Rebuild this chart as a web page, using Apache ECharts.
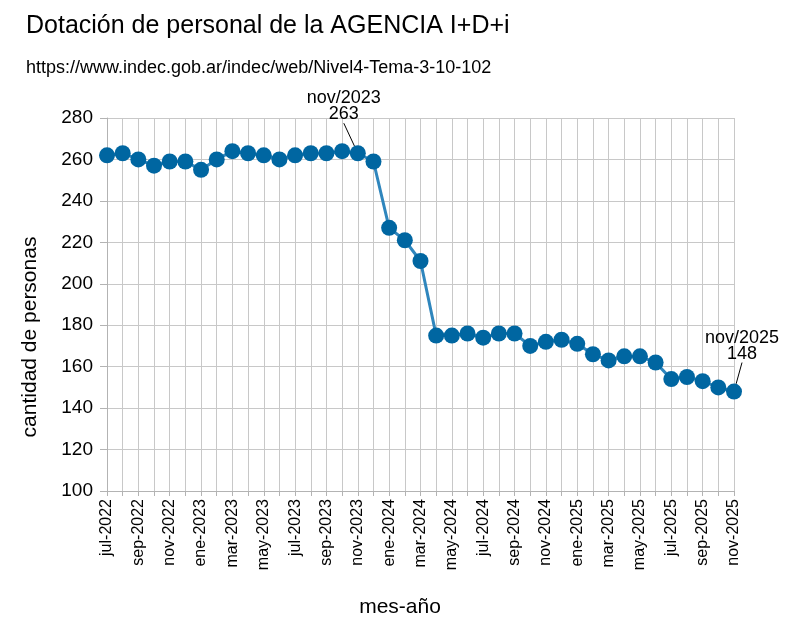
<!DOCTYPE html>
<html>
<head>
<meta charset="utf-8">
<script src="https://cdn.jsdelivr.net/npm/echarts@6/dist/echarts.min.js"></script>
<style>
  html, body { margin: 0; padding: 0; background: #fff; }
  #chart { width: 795px; height: 625px; }
</style>
</head>
<body>
<div id="chart"></div>
<script>
// meses jul-2022 .. nov-2025
var meses = ['ene','feb','mar','abr','may','jun','jul','ago','sep','oct','nov','dic'];
var categorias = [];
for (var i = 0; i < 41; i++) {
  var m = (6 + i) % 12;
  var y = 2022 + Math.floor((6 + i) / 12);
  categorias.push(meses[m] + '-' + y);
}

var personal = [
  262, 263, 260, 257, 259, 259, 255, 260, 264, 263, 262, 260,
  262, 263, 263, 264, 263, 259, 227, 221, 211, 175, 175, 176,
  174, 176, 176, 170, 172, 173, 171, 166, 163, 165, 165, 162,
  154, 155, 153, 150, 148
];

// puntos anotados
var anotados = { 16: 'nov/2023', 40: 'nov/2025' };

var fuente = '"Liberation Sans", Arial, sans-serif';

var chart = echarts.init(document.getElementById('chart'));

var datos = personal.map(function (v, idx) {
  if (anotados[idx]) {
    return {
      value: v,
      label: {
        show: true,
        formatter: anotados[idx] + '\n' + v,
        position: 'top',
        color: '#000',
        fontFamily: fuente,
        fontSize: 18,
        lineHeight: 16,
        align: 'center'
      },
      labelLine: { show: true, lineStyle: { color: '#000', width: 1 } }
    };
  }
  return v;
});

var options = {
  backgroundColor: '#fff',
  animation: false,
  title: [{
    text: 'Dotación de personal de la AGENCIA I+D+i',
    left: 21,
    top: 9,
    textStyle: { fontFamily: fuente, fontSize: 25, fontWeight: 'normal', color: '#000' }
  }, {
    text: 'https://www.indec.gob.ar/indec/web/Nivel4-Tema-3-10-102',
    left: 21,
    top: 54,
    textStyle: { fontFamily: fuente, fontSize: 18, fontWeight: 'normal', color: '#000' }
  }],
  graphic: [{
    type: 'text',
    x: 30,
    y: 337,
    rotation: Math.PI / 2,
    style: {
      text: 'cantidad de personas',
      font: '21px ' + fuente,
      fill: '#000',
      align: 'center',
      verticalAlign: 'middle'
    }
  }, {
    type: 'text',
    x: 400,
    y: 607,
    style: {
      text: 'mes-año',
      font: '21px ' + fuente,
      fill: '#000',
      align: 'center',
      verticalAlign: 'middle'
    }
  }],
  grid: {
    left: 107,
    right: 61,
    top: 118,
    bottom: 134
  },
  xAxis: {
    type: 'category',
    data: categorias,
    boundaryGap: false,
    axisLine: { show: true, lineStyle: { color: '#b3b3b3' } },
    axisTick: { show: true, interval: 0, length: 5, lineStyle: { color: '#b3b3b3' } },
    axisLabel: {
      interval: 1,
      rotate: 90,
      fontFamily: fuente,
      fontSize: 16,
      color: '#000',
      margin: 8
    },
    splitLine: { show: true, interval: 0, lineStyle: { color: '#c8c8c8', width: 1 } }
  },
  yAxis: {
    type: 'value',
    min: 100,
    max: 280,
    interval: 20,
    axisLine: { show: true, lineStyle: { color: '#b3b3b3' } },
    axisTick: { show: true, length: 7, lineStyle: { color: '#b3b3b3' } },
    axisLabel: { fontFamily: fuente, fontSize: 19, color: '#000', margin: 14 },
    splitLine: { show: true, lineStyle: { color: '#c8c8c8', width: 1 } }
  },
  series: [{
    type: 'line',
    data: datos,
    symbol: 'circle',
    symbolSize: 16,
    showAllSymbol: true,
    lineStyle: { color: '#2f86bd', width: 3 },
    itemStyle: { color: '#0066a1' },
    labelLayout: function (params) {
      if (params.dataIndex === 16) {
        return { dx: -14, dy: -18 };
      }
      if (params.dataIndex === 40) {
        return { dx: 8, dy: -17 };
      }
      return {};
    }
  }]
};

chart.setOption(options);
</script>
</body>
</html>
